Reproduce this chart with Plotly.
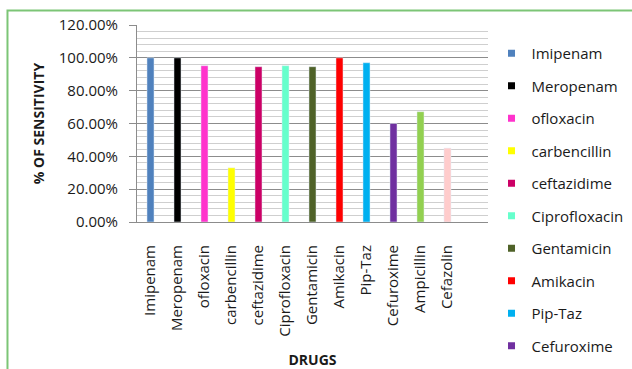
import plotly.graph_objects as go

# Antibiotic sensitivity results
drugs = ["Imipenam", "Meropenam", "ofloxacin", "carbencillin", "ceftazidime",
         "Ciprofloxacin", "Gentamicin", "Amikacin", "Pip-Taz", "Cefuroxime",
         "Ampicillin", "Cefazolin"]
sensitivity = [1.00, 1.00, 0.952, 0.33, 0.946, 0.952, 0.946, 1.00, 0.97, 0.60, 0.672, 0.45]
colors = ["#4F81BD", "#000000", "#FF33CC", "#FFFF00", "#CC0066", "#66FFCC",
          "#4F6228", "#FF0000", "#00B0F0", "#7030A0", "#92D050", "#FFCCCC"]
legend_count = 10  # entries that fit in the legend column

FONT = "Open Sans"
TXT = "#1a1a1a"

fig = go.Figure()
for i, (name, val, col) in enumerate(zip(drugs, sensitivity, colors)):
    fig.add_trace(go.Bar(
        x=[name], y=[val], name=name, marker_color=col, width=0.26,
        legendgroup=name, showlegend=False,
    ))
    # small square key for the legend column
    if i < legend_count:
        fig.add_trace(go.Scatter(
            x=[None], y=[None], mode="markers", name=name, legendgroup=name,
            marker=dict(symbol="square", size=7, color=col),
        ))

fig.update_layout(
    width=632, height=369,
    margin=dict(l=137, r=144, t=25, b=147, autoexpand=False),
    paper_bgcolor="white", plot_bgcolor="white",
    barmode="overlay",
    font=dict(family=FONT, size=15, color=TXT),
    legend=dict(x=1.01, xanchor="left", y=0.939, yanchor="top",
                font=dict(family=FONT, size=15, color=TXT),
                tracegroupgap=10, traceorder="grouped", maxheight=500,
                itemwidth=30),
    xaxis=dict(
        type="category", categoryorder="array", categoryarray=drugs,
        range=[-0.5, 12.5], tickangle=-90, showline=True, linecolor="#8c8c8c",
        linewidth=1, ticks="", showgrid=False, ticklabelstandoff=16,
        title=dict(text="<b>DRUGS</b>", font=dict(family=FONT, size=14, color=TXT), standoff=32),
        tickfont=dict(family=FONT, size=15, color=TXT),
    ),
    yaxis=dict(
        range=[0, 1.2], dtick=0.2, tickformat=".2%", showline=True,
        linecolor="#8c8c8c", ticks="outside", ticklen=7, tickcolor="#8c8c8c",
        showgrid=True, gridcolor="#8c8c8c", gridwidth=1, ticklabelstandoff=8,
        minor=dict(dtick=0.04, showgrid=True, gridcolor="#cfcfcf", gridwidth=1),
        title=dict(text="<b>% OF SENSITIVITY</b>", font=dict(family=FONT, size=14, color=TXT), standoff=10),
        tickfont=dict(family=FONT, size=15, color=TXT),
        zeroline=False,
    ),
    shapes=[dict(type="rect", xref="paper", yref="paper",
                 x0=-0.369, x1=1.45, y0=-0.85, y1=1.0736,
                 line=dict(color="#7cc576", width=2), layer="below")],
)

fig.write_html("out.html")
